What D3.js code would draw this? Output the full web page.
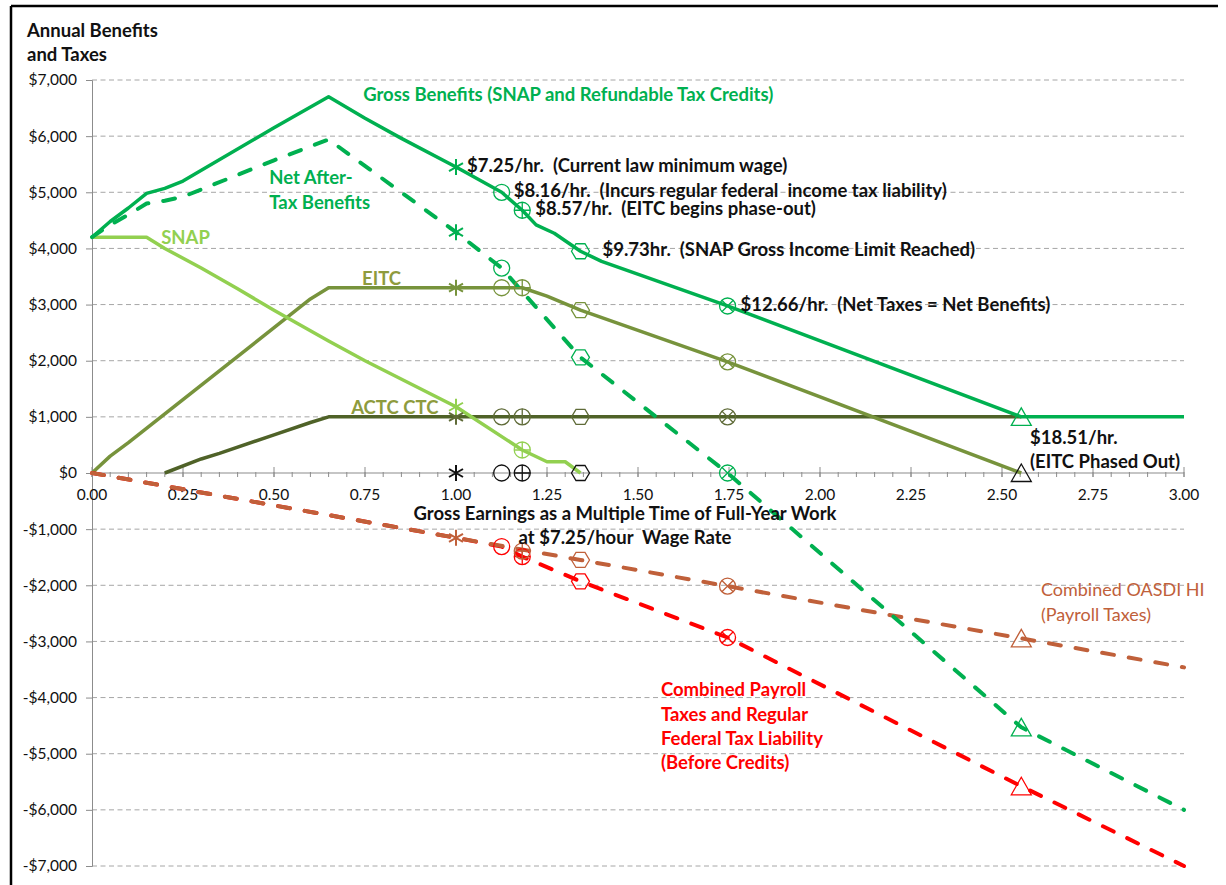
<!DOCTYPE html>
<meta charset="utf-8">
<script src="https://d3js.org/d3.v7.min.js"></script>
<style>
  body { margin: 0; background: #fff; }
  svg text { font-family: Lato, "Open Sans", sans-serif; white-space: pre; }
</style>
<body>
<svg width="1226" height="885"></svg>
<script>
// ---- data ----
var xTicks = [0, 0.25, 0.5, 0.75, 1, 1.25, 1.5, 1.75, 2, 2.25, 2.5, 2.75, 3];
var yTicks = [-7000, -6000, -5000, -4000, -3000, -2000, -1000, 0, 1000, 2000, 3000, 4000, 5000, 6000, 7000];

// [earnings multiple, dollars]
var grossBenefits = [[0,4200],[0.05,4480],[0.1,4720],[0.15,4980],[0.2,5070],[0.25,5200],[0.5,6150],[0.65,6700],
  [0.75,6320],[0.85,5960],[1.0,5450],[1.1255,5000],[1.182,4680],[1.22,4420],[1.27,4270],[1.342,3950],[1.4,3770],
  [1.746,2975],[2.553,1000],[3.0,1000]];
var netBenefits = [[0,4200],[0.05,4420],[0.1,4600],[0.15,4800],[0.2,4850],[0.25,4920],[0.5,5570],[0.65,5940],
  [1.0,4290],[1.1255,3650],[1.182,3230],[1.342,2060],[1.746,0],[2.553,-4530],[3.0,-6000]];
var snap = [[0,4200],[0.15,4200],[0.2,4000],[0.3,3650],[0.4,3280],[0.5,2900],[0.65,2350],[0.75,2000],
  [1.0,1180],[1.182,410],[1.25,200],[1.3,200],[1.342,0]];
var eitc = [[0,0],[0.05,300],[0.1,540],[0.6,3100],[0.65,3300],[1.182,3300],[1.25,3150],[1.342,2900],
  [1.746,1980],[2.553,0]];
var actc = [[0.2,0],[0.3,250],[0.35,350],[0.5,680],[0.6,900],[0.65,1000],[2.553,1000]];
var payroll = [[0,0],[0.5,-577],[1.0,-1154],[1.342,-1549],[1.746,-2015],[2.553,-2946],[3.0,-3462]];
var payrollPlusTax = [[0,0],[1.0,-1154],[1.1255,-1310],[1.182,-1490],[1.342,-1930],[1.746,-2930],
  [2.553,-5580],[3.0,-7000]];

// wage points ($7.25, $8.16, $8.57, $9.73, $12.66, $18.51 an hour)
var wageMultiples = [1.0, 1.1255, 1.182, 1.342, 1.746, 2.553];
// [wage point index, dollars]
var grossMarks = [[0,5450],[1,5000],[2,4680],[3,3950],[4,2975],[5,1000]];
var netMarks = [[0,4290],[1,3650],[3,2060],[4,0],[5,-4530]];
var snapMarks = [[0,1180],[2,410]];
var eitcMarks = [[0,3300],[1,3300],[2,3300],[3,2900],[4,1980]];
var actcMarks = [[0,1000],[1,1000],[2,1000],[3,1000],[4,1000]];
var zeroMarks = [[0,0],[1,0],[2,0],[3,0],[5,0]];
var payrollMarks = [[0,-1154],[2,-1390],[3,-1549],[4,-2015],[5,-2946]];
var taxMarks = [[1,-1310],[2,-1490],[3,-1930],[4,-2930],[5,-5580]];

var wageNotes = ["$7.25/hr.  (Current law minimum wage)",
  "$8.16/hr.  (Incurs regular federal  income tax liability)",
  "$8.57/hr.  (EITC begins phase-out)",
  "$9.73hr.  (SNAP Gross Income Limit Reached)",
  "$12.66/hr.  (Net Taxes = Net Benefits)"];

// ---- drawing ----
var svg = d3.select("svg");
var x = d3.scaleLinear().domain([0, 3]).range([92, 1184]);
var y = d3.scaleLinear().domain([-7000, 7000]).range([866, 80]);

var green = "#00b050", lightGreen = "#92d050", olive = "#77933c", darkOlive = "#4f6228",
  brown = "#c0603a", red = "#ff0000";
var fs = 18.5; // label font size

// frame (top and left edges of the pasted chart)
svg.append("line").attr("x1", 11).attr("x2", 1218).attr("y1", 6).attr("y2", 6)
  .attr("stroke", "#000").attr("stroke-width", 2.5);
svg.append("line").attr("x1", 11).attr("x2", 11).attr("y1", 6).attr("y2", 885)
  .attr("stroke", "#000").attr("stroke-width", 2.5);

// gridlines
svg.append("g").selectAll("line").data(yTicks.filter(function (d) { return d !== 0; }))
  .enter().append("line")
  .attr("x1", x(0)).attr("x2", x(3))
  .attr("y1", function (d) { return y(d); }).attr("y2", function (d) { return y(d); })
  .attr("stroke", "#a6a6a6").attr("stroke-dasharray", "5,3.5");

// y axis
var yAxis = d3.axisLeft(y).tickValues(yTicks).tickSize(6).tickPadding(9)
  .tickFormat(function (d) { return (d < 0 ? "-$" : "$") + d3.format(",")(Math.abs(d)); });
var gy = svg.append("g").attr("transform", "translate(" + x(0) + ",0)").call(yAxis);
gy.select(".domain").attr("stroke", "#8c8c8c");
gy.selectAll(".tick line").attr("stroke", "#8c8c8c");
gy.selectAll("text").attr("font-size", 15.5).attr("fill", "#111").style("font-family", "Lato");

// x axis along $0
var minor = d3.range(0, 61).map(function (i) { return i * 0.05; });
var gx = svg.append("g");
gx.append("line").attr("x1", x(0)).attr("x2", x(3)).attr("y1", y(0)).attr("y2", y(0))
  .attr("stroke", "#8c8c8c").attr("stroke-width", 1.2);
gx.selectAll("line.minor").data(minor).enter().append("line").attr("class", "minor")
  .attr("x1", function (d) { return x(d); }).attr("x2", function (d) { return x(d); })
  .attr("y1", y(0) - 1).attr("y2", y(0) + 4).attr("stroke", "#8c8c8c");
gx.selectAll("line.major").data(xTicks).enter().append("line").attr("class", "major")
  .attr("x1", function (d) { return x(d); }).attr("x2", function (d) { return x(d); })
  .attr("y1", y(0) - 6).attr("y2", y(0) + 4).attr("stroke", "#8c8c8c");
gx.selectAll("text").data(xTicks).enter().append("text")
  .attr("x", function (d) { return x(d); }).attr("y", y(0) + 27)
  .attr("text-anchor", "middle").attr("font-size", 15.5).attr("fill", "#111")
  .text(function (d) { return d3.format(".2f")(d); });

// series lines
var line = d3.line().x(function (d) { return x(d[0]); }).y(function (d) { return y(d[1]); });
function drawLine(data, color, dashed) {
  svg.append("path").datum(data).attr("d", line).attr("fill", "none")
    .attr("stroke", color).attr("stroke-width", dashed ? 4 : 3.5)
    .attr("stroke-linecap", dashed ? "round" : "butt").attr("stroke-linejoin", "round")
    .attr("stroke-dasharray", dashed ? "12,15" : null);
}
drawLine(actc, darkOlive, false);
drawLine(eitc, olive, false);
drawLine(snap, lightGreen, false);
drawLine(payrollPlusTax, red, true);
drawLine(payroll, brown, true);
drawLine(netBenefits, green, true);
drawLine(grossBenefits, green, false);

// markers: star, circle, circle-plus, hexagon, circle-x, triangle
function marker(g, shape) {
  var r = 8;
  if (shape === 0) {
    g.append("path").attr("d", "M0,-8V8M-7,-4L7,4M-7,4L7,-4");
  } else if (shape === 1) {
    g.append("circle").attr("r", r);
  } else if (shape === 2) {
    g.append("circle").attr("r", r);
    g.append("path").attr("d", "M0,-8V8M-8,0H8");
  } else if (shape === 3) {
    g.append("path").attr("d", "M-9,0L-4.5,-7.5H4.5L9,0L4.5,7.5H-4.5Z");
  } else if (shape === 4) {
    g.append("circle").attr("r", r);
    g.append("path").attr("d", "M-5.7,-5.7L5.7,5.7M-5.7,5.7L5.7,-5.7");
  } else {
    g.append("path").attr("d", "M0,-9L10,8.5H-10Z");
  }
}
function drawMarks(marks, color) {
  marks.forEach(function (m) {
    var g = svg.append("g")
      .attr("transform", "translate(" + x(wageMultiples[m[0]]) + "," + y(m[1]) + ")")
      .attr("fill", "none").attr("stroke", color).attr("stroke-width", m[0] === 0 ? 2 : 1.3);
    marker(g, m[0]);
  });
}
drawMarks(actcMarks, "#5f6b38");
drawMarks(eitcMarks, olive);
drawMarks(snapMarks, lightGreen);
drawMarks(taxMarks, red);
drawMarks(payrollMarks, brown);
drawMarks(netMarks, green);
drawMarks(grossMarks, green);
drawMarks(zeroMarks, "#111");

// wage point notes beside the gross benefits markers
var noteDx = [11, 12, 13, 22, 13];
wageNotes.forEach(function (t, i) {
  svg.append("text").attr("x", x(wageMultiples[i]) + noteDx[i]).attr("y", y(grossMarks[i][1]) + 5)
    .attr("font-size", fs).attr("font-weight", "bold").attr("fill", "#111").text(t);
});

// series and region labels
function label(lines, xv, yv, color, weight, size) {
  lines.forEach(function (t, i) {
    svg.append("text").attr("x", x(xv)).attr("y", y(yv) + 1.5 + i * 24.3)
      .attr("font-size", size || fs).attr("font-weight", weight || "bold").attr("fill", color).text(t);
  });
}
label(["Gross Benefits (SNAP and Refundable Tax Credits)"], 0.745, 6644, green);
label(["Net After-", "Tax Benefits"], 0.487, 5166, green);
label(["SNAP"], 0.19, 4097, lightGreen);
label(["EITC"], 0.742, 3367, "#8e9b3d");
label(["ACTC CTC"], 0.712, 1069, "#8e9b3d");
label(["$18.51/hr.", "(EITC Phased Out)"], 2.577, 552, "#111");
label(["Combined OASDI HI", "(Payroll Taxes)"], 2.607, -2173, brown, "normal", 18);
label(["Combined Payroll", "Taxes and Regular", "Federal Tax Liability", "(Before Credits)"], 1.563, -3954, red);

// axis titles
svg.append("text").attr("x", 27).attr("y", 37).attr("font-size", fs).attr("font-weight", "bold")
  .attr("fill", "#111").text("Annual Benefits");
svg.append("text").attr("x", 27).attr("y", 61).attr("font-size", fs).attr("font-weight", "bold")
  .attr("fill", "#111").text("and Taxes");
svg.append("text").attr("x", 625).attr("y", 520).attr("text-anchor", "middle").attr("font-size", fs)
  .attr("font-weight", "bold").attr("fill", "#111").text("Gross Earnings as a Multiple Time of Full-Year Work");
svg.append("text").attr("x", 625).attr("y", 544).attr("text-anchor", "middle").attr("font-size", fs)
  .attr("font-weight", "bold").attr("fill", "#111").text("at $7.25/hour  Wage Rate");
</script>
</body>
